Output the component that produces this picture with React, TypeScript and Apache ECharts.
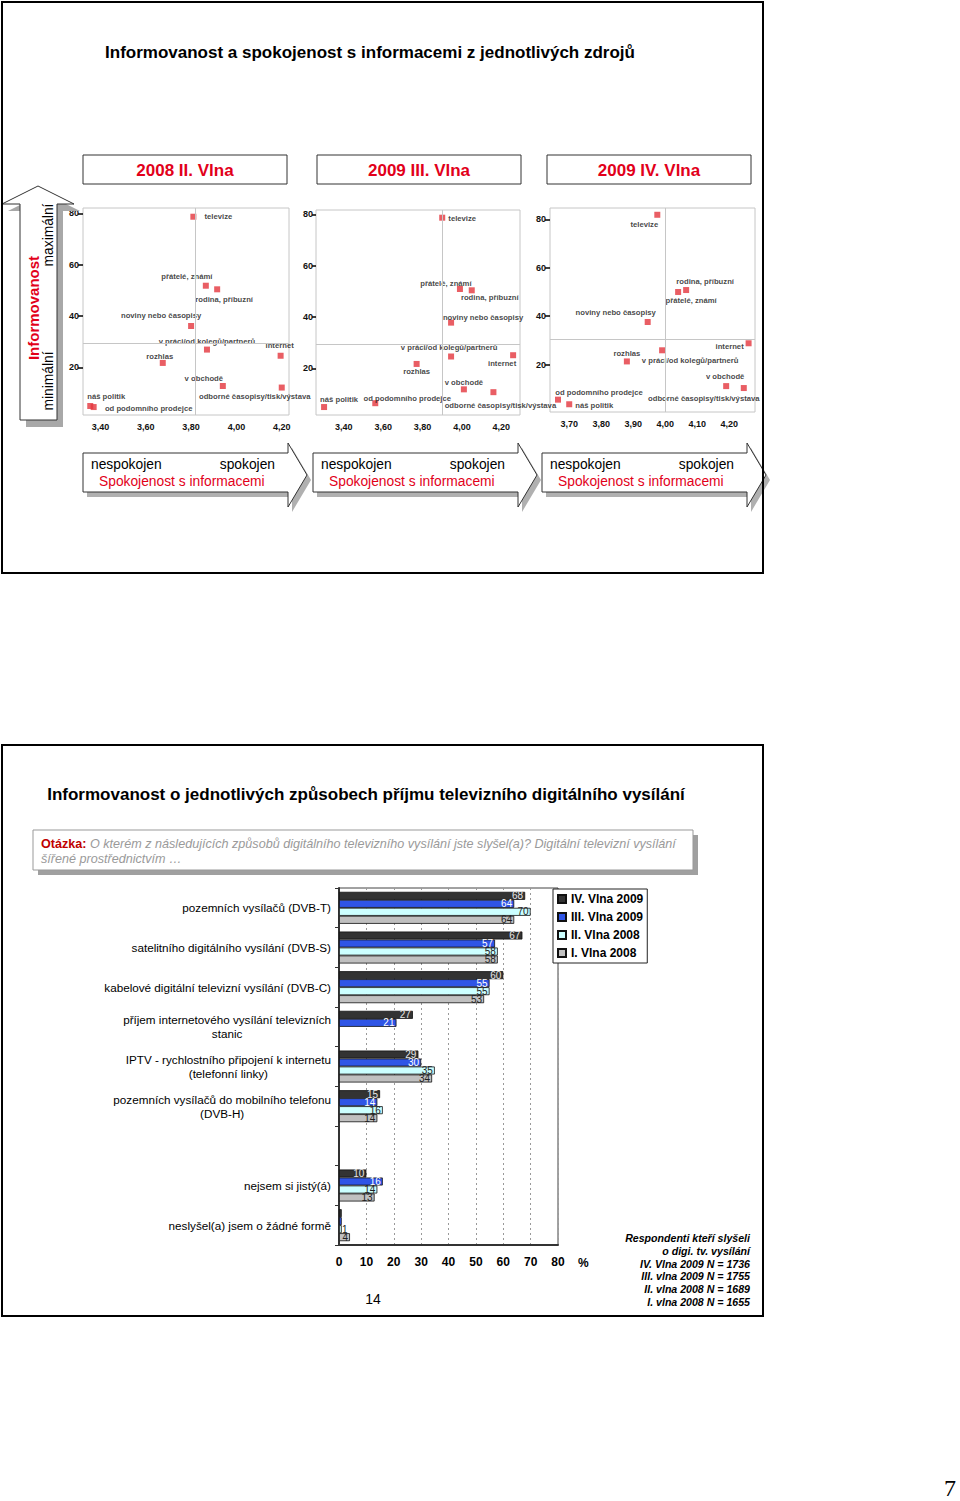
import React, { useEffect, useRef } from 'react';
import * as echarts from 'echarts';

// ---------- DATA ----------
const sources = [
  'televize',
  'přátelé, známí',
  'rodina, příbuzní',
  'noviny nebo časopisy',
  'v práci/od kolegů/partnerů',
  'internet',
  'rozhlas',
  'v obchodě',
  'odborné časopisy/tisk/výstava',
  'náš politik',
  'od podomního prodejce',
];

const waveTitles = ['2008 II. Vlna', '2009 III. Vlna', '2009 IV. Vlna'];

// satisfaction (x) and informedness in % (y)
const satisfaction2008II = [3.81, 3.865, 3.915, 3.8, 3.87, 4.195, 3.675, 3.94, 4.2, 3.355, 3.37];
const informed2008II = [78.7, 51.8, 50.4, 36.1, 26.9, 24.5, 21.7, 12.7, 12.1, 4.9, 4.5];
const satisfaction2009III = [3.9, 3.99, 4.05, 3.945, 3.945, 4.26, 3.77, 4.01, 4.16, 3.3, 3.56];
const informed2009III = [78.7, 50.9, 50.4, 37.8, 24.6, 25.1, 21.7, 11.8, 10.7, 4.9, 6.4];
const satisfaction2009IV = [3.975, 4.04, 4.065, 3.945, 3.99, 4.26, 3.88, 4.19, 4.245, 3.7, 3.665];
const informed2009IV = [81.9, 50.0, 50.8, 37.6, 25.9, 28.8, 21.3, 11.1, 10.3, 3.6, 5.5];

const meanSatisfaction = [3.82, 3.897, 3.995];
const meanInformed = [29.35, 29.5, 30.3];

const informedTicks = [20, 40, 60, 80];
const satisfactionTicksWide = [3.4, 3.6, 3.8, 4.0, 4.2];
const satisfactionTicksNarrow = [3.7, 3.8, 3.9, 4.0, 4.1, 4.2];

const receptionModes = [
  'pozemních vysílačů (DVB-T)',
  'satelitního digitálního vysílání (DVB-S)',
  'kabelové digitální televizní vysílání (DVB-C)',
  'příjem internetového vysílání televizních\nstanic',
  'IPTV - rychlostního připojení k internetu\n(telefonní linky)',
  'pozemních vysílačů do mobilního telefonu\n(DVB-H)',
  '',
  'nejsem si jistý(á)',
  'neslyšel(a) jsem o žádné formě',
];
const seriesNames = ['IV. Vlna 2009', 'III. Vlna 2009', 'II. Vlna 2008', 'I. Vlna 2008'];
const wave4_2009 = [68, 67, 60, 27, 29, 15, null, 10, 1];
const wave3_2009 = [64, 57, 55, 21, 30, 14, null, 16, 1];
const wave2_2008 = [70, 58, 55, null, 35, 16, null, 14, 1];
const wave1_2008 = [64, 58, 53, null, 34, 14, null, 13, 4];

const noteLines = [
  'Respondenti kteří slyšeli',
  'o digi. tv. vysílání',
  'IV. Vlna 2009 N = 1736',
  'III. vlna 2009 N = 1755',
  'II. vlna 2008 N = 1689',
  'I. vlna 2008 N = 1655',
];

// ---------- STYLE / LAYOUT ----------
const FONT = '"Liberation Sans", Arial, Helvetica, sans-serif';
const RED = '#e2001a';
const MARK = '#e4363d';

const labelOffsets1 = [[25, 0], [-19, -9], [7, 10], [-30, -10], [0, -8], [-1, -10], [-3, -6], [-19, -8], [-27, 9], [16, -10], [55, 1]];
const labelOffsets2 = [[20, 1], [-14, -6], [18, 7], [32, -5], [-2, -9], [-11, 8], [0, 8], [0, -7], [7, 13], [15, -8], [32, -5]];
const labelOffsets3 = [[-13, 10], [13, 9], [19, -9], [-32, -9], [28, 10], [-19, 3], [0, -8], [-1, -10], [-40, 10], [25, 1], [41, -7]];

const panels = [
  { xs: satisfaction2008II, ys: informed2008II, ticks: satisfactionTicksWide, offsets: labelOffsets1,
    left: 83, top: 208, width: 206, height: 207, xMin: 3.323, xMax: 4.232, yMin: 1.4, yMax: 82.1, yMargin: 4, tickLen: 5, headerX: 83, arrowX: 83 },
  { xs: satisfaction2009III, ys: informed2009III, ticks: satisfactionTicksWide, offsets: labelOffsets2,
    left: 316, top: 210, width: 204, height: 205, xMin: 3.259, xMax: 4.295, yMin: 1.8, yMax: 81.7, yMargin: 3, tickLen: 4, headerX: 317, arrowX: 313 },
  { xs: satisfaction2009IV, ys: informed2009IV, ticks: satisfactionTicksNarrow, offsets: labelOffsets3,
    left: 550, top: 208, width: 205, height: 204, xMin: 3.64, xMax: 4.28, yMin: 0.4, yMax: 84.7, yMargin: 4, tickLen: 5, headerX: 547, arrowX: 542 },
];

const barColors = ['#333333', '#2f55e6', '#ccffff', '#c0c0c0'];
const barLabelColors = ['#e6e6e6', '#ffffff', '#222222', '#222222'];

function text(x: number, y: number, t: string, o: any = {}) {
  return {
    type: 'text',
    x,
    y,
    rotation: o.rotation || 0,
    z: 10,
    style: {
      text: t,
      fill: o.fill || '#000',
      fontFamily: o.fontFamily || FONT,
      fontSize: o.fontSize || 12,
      fontWeight: o.fontWeight || 'normal',
      fontStyle: o.fontStyle || 'normal',
      align: o.align || 'left',
      verticalAlign: o.verticalAlign || 'middle',
      lineHeight: o.lineHeight,
      rich: o.rich,
    },
  };
}

function buildOption(): any {
  const grids: any[] = [];
  const xAxes: any[] = [];
  const yAxes: any[] = [];
  const series: any[] = [];
  const graphic: any[] = [];

  // frames
  graphic.push({ type: 'rect', z: 20, shape: { x: 2, y: 2, width: 761, height: 571 }, style: { fill: 'none', stroke: '#000', lineWidth: 2 } });
  graphic.push({ type: 'rect', z: 20, shape: { x: 2, y: 745, width: 761, height: 571 }, style: { fill: 'none', stroke: '#000', lineWidth: 2 } });

  graphic.push(text(370, 52, 'Informovanost a spokojenost s informacemi z jednotlivých zdrojů', { fontSize: 17, fontWeight: 'bold', align: 'center' }));

  // left up arrow
  const up = [[38, 186], [74, 204], [57, 204], [57, 420], [20, 420], [20, 204], [2, 204]];
  graphic.push({ type: 'polygon', z: 1, shape: { points: up.map(([x, y]) => [x + 6, y + 7]) }, style: { fill: '#a8a8a8' } });
  graphic.push({ type: 'polygon', z: 2, shape: { points: up }, style: { fill: '#fff', stroke: '#333', lineWidth: 1 } });
  graphic.push(text(33, 308, 'Informovanost', { fontSize: 15, fontWeight: 'bold', fill: RED, align: 'center', rotation: Math.PI / 2 }));
  graphic.push(text(48, 235, 'maximální', { fontSize: 13.8, align: 'center', rotation: Math.PI / 2 }));
  graphic.push(text(48, 381, 'minimální', { fontSize: 13.8, align: 'center', rotation: Math.PI / 2 }));

  panels.forEach((p, i) => {
    grids.push({ left: p.left, top: p.top, width: p.width, height: p.height, show: true, backgroundColor: '#fff', borderColor: '#c6c6c6', borderWidth: 1 });
    xAxes.push({
      type: 'value', gridIndex: i, min: p.xMin, max: p.xMax,
      axisLine: { show: false }, axisTick: { show: false }, splitLine: { show: false },
      axisLabel: { customValues: p.ticks, fontSize: 9, fontWeight: 'bold', color: '#111', margin: 7,
        formatter: (v: number) => v.toFixed(2).replace('.', ',') },
    });
    yAxes.push({
      type: 'value', gridIndex: i, min: p.yMin, max: p.yMax,
      axisLine: { show: false }, splitLine: { show: false },
      axisTick: { show: true, customValues: informedTicks, length: p.tickLen, lineStyle: { color: '#000', width: 1.5 } },
      axisLabel: { customValues: informedTicks, fontSize: 9, fontWeight: 'bold', color: '#111', margin: p.yMargin },
    });
    series.push({
      type: 'scatter', name: waveTitles[i], xAxisIndex: i, yAxisIndex: i,
      symbol: 'rect', symbolSize: 6, itemStyle: { color: MARK },
      data: sources.map((name, k) => ({ name, value: [p.xs[k], p.ys[k]], label: { offset: p.offsets[k] } })),
      label: { show: true, position: 'inside', formatter: '{b}', fontSize: 7.7, fontWeight: 'bold', color: '#111', fontFamily: FONT },
      markLine: {
        silent: true, symbol: 'none', label: { show: false },
        lineStyle: { color: '#c6c6c6', width: 1, type: 'solid' },
        data: [{ xAxis: meanSatisfaction[i] }, { yAxis: meanInformed[i] }],
      },
      z: 3,
    });

    // header box
    graphic.push({ type: 'rect', z: 2, shape: { x: p.headerX, y: 155, width: 204, height: 29 }, style: { fill: '#fff', stroke: '#333', lineWidth: 1 } });
    graphic.push(text(p.headerX + 102, 170, waveTitles[i], { fontSize: 17, fontWeight: 'bold', fill: RED, align: 'center' }));

    // satisfaction arrow
    const x0 = p.arrowX;
    const x1 = x0 + 205;
    const pts = [[x0, 453], [x1, 453], [x1, 443], [x1 + 19, 475], [x1, 507], [x1, 492], [x0, 492]];
    graphic.push({ type: 'polygon', z: 1, shape: { points: pts.map(([x, y]) => [x + 4, y + 5]) }, style: { fill: '#b0b0b0' } });
    graphic.push({ type: 'polygon', z: 2, shape: { points: pts }, style: { fill: '#fff', stroke: '#333', lineWidth: 1 } });
    graphic.push(text(x0 + 8, 464, 'nespokojen', { fontSize: 13.8 }));
    graphic.push(text(x0 + 192, 464, 'spokojen', { fontSize: 13.8, align: 'right' }));
    graphic.push(text(x0 + 16, 481, 'Spokojenost s informacemi', { fontSize: 13.8, fill: RED }));
  });

  // ---------- bottom chart ----------
  graphic.push(text(366, 794, 'Informovanost o jednotlivých způsobech příjmu televizního digitálního vysílání', { fontSize: 17, fontWeight: 'bold', align: 'center' }));
  graphic.push({ type: 'rect', z: 1, shape: { x: 38, y: 835, width: 660, height: 40 }, style: { fill: '#a0a0a0' } });
  graphic.push({ type: 'rect', z: 2, shape: { x: 33, y: 830, width: 660, height: 40 }, style: { fill: '#fff', stroke: '#999', lineWidth: 1 } });
  graphic.push(text(41, 836,
    '{b|Otázka:}{i| O kterém z následujících způsobů digitálního televizního vysílání jste slyšel(a)? Digitální televizní vysílání}\n{i|šířené prostřednictvím …}',
    {
      verticalAlign: 'top', lineHeight: 15, fontSize: 12.6,
      rich: {
        b: { fontFamily: FONT, fontSize: 12.6, fontWeight: 'bold', fill: '#c00000', color: '#c00000', lineHeight: 15 },
        i: { fontFamily: FONT, fontSize: 12.6, fontStyle: 'italic', fill: '#9a9a9a', color: '#9a9a9a', lineHeight: 15 },
      },
    }));

  const bi = 3;
  grids.push({ left: 339, top: 888, width: 219, height: 357, show: true, borderColor: '#444', borderWidth: 1, backgroundColor: '#fff' });
  xAxes.push({
    type: 'value', gridIndex: bi, min: 0, max: 80, interval: 10,
    axisLine: { show: true, lineStyle: { color: '#333', width: 2 } },
    axisTick: { show: false },
    splitLine: { show: true, lineStyle: { color: '#999', type: [2, 3], width: 1 } },
    axisLabel: { fontSize: 12, fontWeight: 'bold', color: '#000', margin: 11 },
  });
  yAxes.push({
    type: 'category', gridIndex: bi, data: receptionModes, inverse: true,
    axisLine: { show: true, lineStyle: { color: '#333', width: 2 } },
    axisTick: { show: true, length: 4, lineStyle: { color: '#333', width: 1 } },
    axisLabel: {
      margin: 8, fontSize: 11.7, color: '#000',
      formatter: (v: string) => v.split('\n').map((l) => `{c|${l}}`).join('\n'),
      rich: { c: { align: 'center', fontSize: 11.7, lineHeight: 14, color: '#000', fontFamily: FONT } },
    },
  });
  const waves = [wave4_2009, wave3_2009, wave2_2008, wave1_2008];
  waves.forEach((vals, s) => {
    series.push({
      type: 'bar', name: seriesNames[s], xAxisIndex: bi, yAxisIndex: bi,
      barWidth: 8, barGap: '0%',
      itemStyle: { color: barColors[s], borderColor: '#111', borderWidth: 0.8 },
      label: { show: true, position: 'insideRight', distance: 2, fontSize: 10, color: barLabelColors[s], fontFamily: FONT },
      data: vals.map((v) => {
        if (v == null) return '-';
        const light = s >= 2;
        return {
          value: v,
          label: { show: light || v >= 3, position: v < 3 ? 'insideLeft' : 'insideRight', distance: v < 3 ? 3 : 2 },
        };
      }),
    });
  });

  graphic.push(text(578, 1263, '%', { fontSize: 12, fontWeight: 'bold' }));
  graphic.push(text(750, 1270, noteLines.join('\n'), { fontSize: 10.6, fontWeight: 'bold', fontStyle: 'italic', align: 'right', lineHeight: 12.8 }));
  graphic.push(text(373, 1299, '14', { fontSize: 14, align: 'center' }));
  graphic.push(text(950, 1488, '7', { fontSize: 24, align: 'center', fontFamily: '"Liberation Serif", "Times New Roman", serif' }));

  return {
    animation: false,
    backgroundColor: '#fff',
    textStyle: { fontFamily: FONT },
    legend: {
      data: seriesNames, left: 553, top: 889, orient: 'vertical',
      itemWidth: 8, itemHeight: 8, itemGap: 4, padding: [3, 4, 3, 4],
      borderColor: '#222', borderWidth: 1, backgroundColor: '#fff',
      icon: 'rect', selectedMode: false,
      textStyle: { fontSize: 12, fontWeight: 'bold', color: '#000', lineHeight: 14, fontFamily: FONT },
    },
    grid: grids,
    xAxis: xAxes,
    yAxis: yAxes,
    series,
    graphic,
  };
}

export default function App() {
  const ref = useRef<HTMLDivElement>(null);
  useEffect(() => {
    if (!ref.current) return;
    const chart = echarts.init(ref.current, undefined, { renderer: 'svg' });
    chart.setOption(buildOption());
    return () => chart.dispose();
  }, []);
  return <div ref={ref} style={{ position: 'absolute', left: 0, top: 0, width: 960, height: 1501, background: '#fff' }} />;
}
